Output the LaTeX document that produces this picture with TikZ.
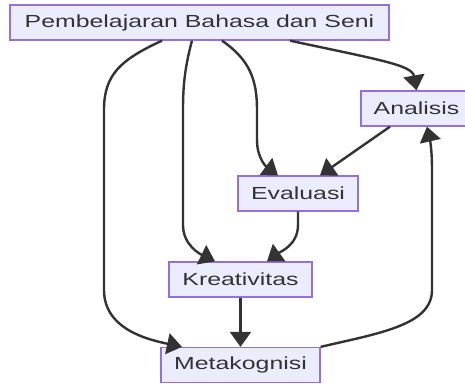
\documentclass[tikz,border=0pt]{standalone}
\usepackage{fontspec}
\newfontfamily\labelfont[FakeStretch=1.42]{Liberation Sans}
\usetikzlibrary{arrows.meta,calc}
\definecolor{boxfill}{HTML}{ECECFF}
\definecolor{boxline}{HTML}{9370DB}
\definecolor{edgeline}{HTML}{333333}
\begin{document}
\begin{tikzpicture}[x=1pt,y=-1pt,
  box/.style={draw=boxline, fill=boxfill, line width=1.3pt, inner sep=0pt,
    minimum height=35pt, font=\labelfont\fontsize{17.5}{20}\selectfont, text=edgeline},
  link/.style={draw=edgeline, line width=2.4pt,
    -{Triangle[length=15pt 0 0,width=21pt 0 0]}}]
\useasboundingbox (0,0) rectangle (465,383);
\begin{scope}
\clip (0,0) rectangle (465,383);
\node[box, minimum width=379pt] (top) at (199.5,22.5) {Pembelajaran Bahasa dan Seni};
\node[box, minimum width=111pt] (ana) at (416.5,108.5) {Analisis};
\node[box, minimum width=120pt] (eva) at (298,193.5) {Evaluasi};
\node[box, minimum width=143pt] (kre) at (240.5,279.5) {Kreativitas};
\node[box, minimum width=159pt] (met) at (240.5,365) {Metakognisi};
\end{scope}

% Pembelajaran -> Metakognisi
\draw[link] ([xshift=-37.5pt]top.south) .. controls (120,60) and (104,75) .. (104,110)
  -- (104,290) .. controls (104,330) and (150,340) .. ([xshift=-58.5pt]met.north);
% Pembelajaran -> Kreativitas
\draw[link] ([xshift=-7.5pt]top.south) .. controls (184,70) and (183,90) .. (183,110)
  -- (183,225) .. controls (183,245) and (200,254) .. ([xshift=-25.5pt]kre.north);
% Pembelajaran -> Evaluasi
\draw[link] ([xshift=22.5pt]top.south) .. controls (250,60) and (257,80) .. (257,110)
  -- (257,140) .. controls (257,160) and (268,168) .. ([xshift=-20pt]eva.north);
% Pembelajaran -> Analisis
\draw[link] ([xshift=90.5pt]top.south) .. controls (380,60) and (412,65) .. (ana.north);
% Analisis -> Evaluasi
\draw[link] ([xshift=-26.5pt]ana.south) -- ([xshift=22pt]eva.north);
% Evaluasi -> Kreativitas
\draw[link] (eva.south) -- (298,225) .. controls (298,245) and (280,252) .. ([xshift=26.5pt]kre.north);
% Kreativitas -> Metakognisi
\draw[link] (kre.south) -- (met.north);
% Metakognisi -> Analisis
\draw[link] (met.north east) .. controls (380,333) and (432,325) .. (432,290)
  -- (432,170) .. controls (432,150) and (430,140) .. ([xshift=10.5pt]ana.south);
\end{tikzpicture}
\end{document}
